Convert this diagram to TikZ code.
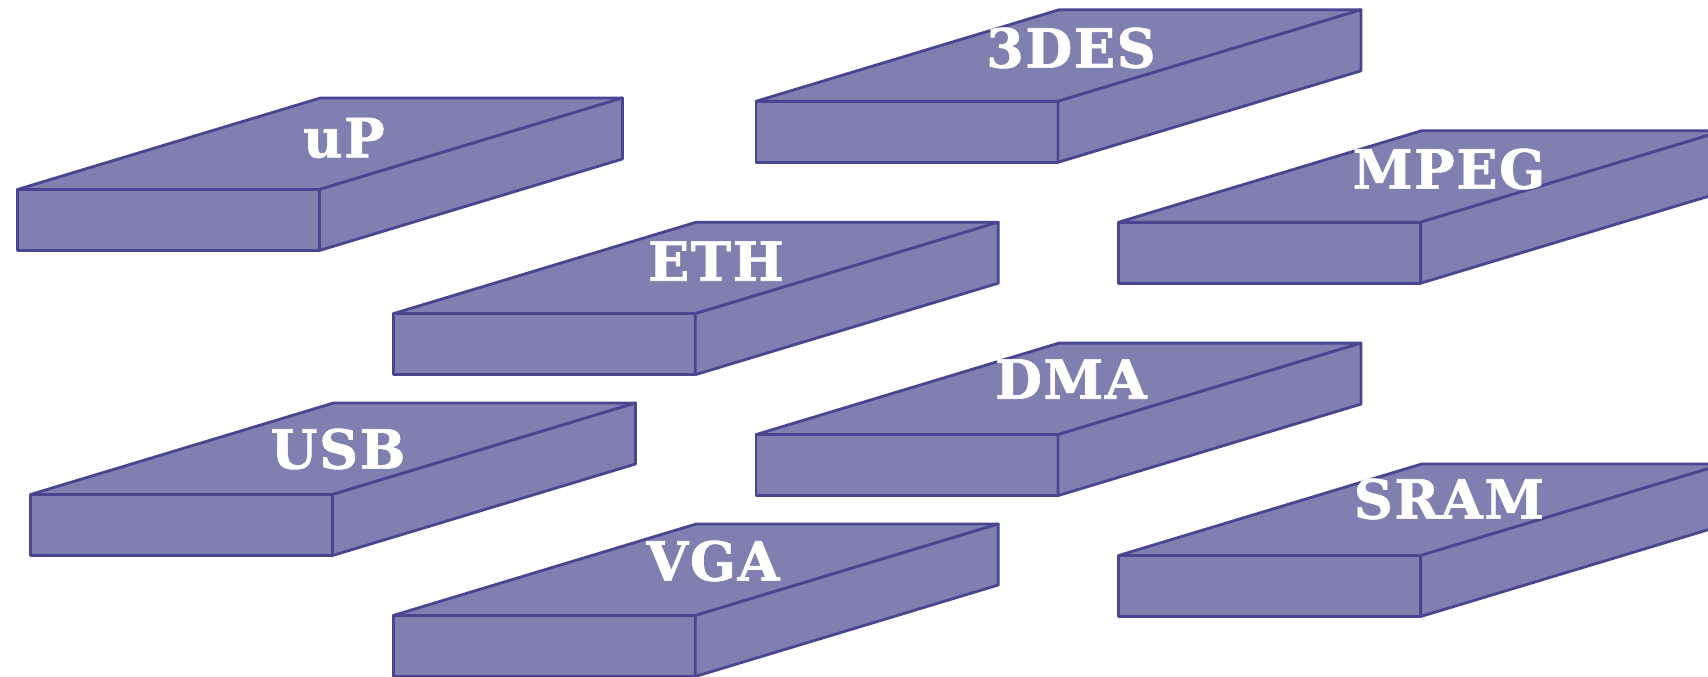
\documentclass[tikz,border=0pt]{standalone}
\usepackage{fontspec}
\newfontfamily\labfont[FakeBold=1.2,LetterSpace=3]{DejaVu Serif Bold}
\definecolor{slabfill}{HTML}{8080B0}
\definecolor{slabline}{HTML}{4A4590}
\tikzset{
  slabface/.style={fill=slabfill, draw=slabline, line width=2.8pt, line join=round},
  slablabel/.style={text=white, font=\labfont\fontsize{54}{54}\selectfont, inner sep=0pt, anchor=center},
}
% \slabbox{name}{x}{y}{label}{lx}{ly}: front-left-top corner at (x,y)
\newcommand\slabbox[6]{%
  \coordinate (#1-a) at (#2,#3);
  \coordinate (#1-b) at ($(#1-a)+(302,0)$);
  \coordinate (#1-c) at ($(#1-b)+(0,61)$);
  \coordinate (#1-d) at ($(#1-a)+(0,61)$);
  \coordinate (#1-e) at ($(#1-a)+(303,-91.5)$);
  \coordinate (#1-f) at ($(#1-b)+(303,-91.5)$);
  \coordinate (#1-g) at ($(#1-c)+(303,-91.5)$);
  \draw[slabface] (#1-a) -- (#1-e) -- (#1-f) -- (#1-b) -- cycle;
  \draw[slabface] (#1-a) -- (#1-b) -- (#1-c) -- (#1-d) -- cycle;
  \draw[slabface] (#1-b) -- (#1-f) -- (#1-g) -- (#1-c) -- cycle;
  \node[slablabel] (#1-lab) at (#5,#6) {#4};
}
\usetikzlibrary{calc}
\begin{document}
\begin{tikzpicture}[x=1pt,y=-1pt]
  \useasboundingbox (0,0) rectangle (1708,677);
  \slabbox{up}{17.4}{189.5}{uP}{344}{138}
  \slabbox{des}{756}{101.3}{3DES}{1071}{48}
  \slabbox{mpeg}{1118.7}{222.2}{MPEG}{1449}{169}
  \slabbox{eth}{393.2}{313.7}{ETH}{716}{261}
  \slabbox{dma}{756}{434.6}{DMA}{1071}{379}
  \slabbox{usb}{30.5}{494.5}{USB}{338}{449}
  \slabbox{vga}{393.2}{615.5}{VGA}{713}{561}
  \slabbox{sram}{1118.7}{555.5}{SRAM}{1449}{499}
\end{tikzpicture}
\end{document}
